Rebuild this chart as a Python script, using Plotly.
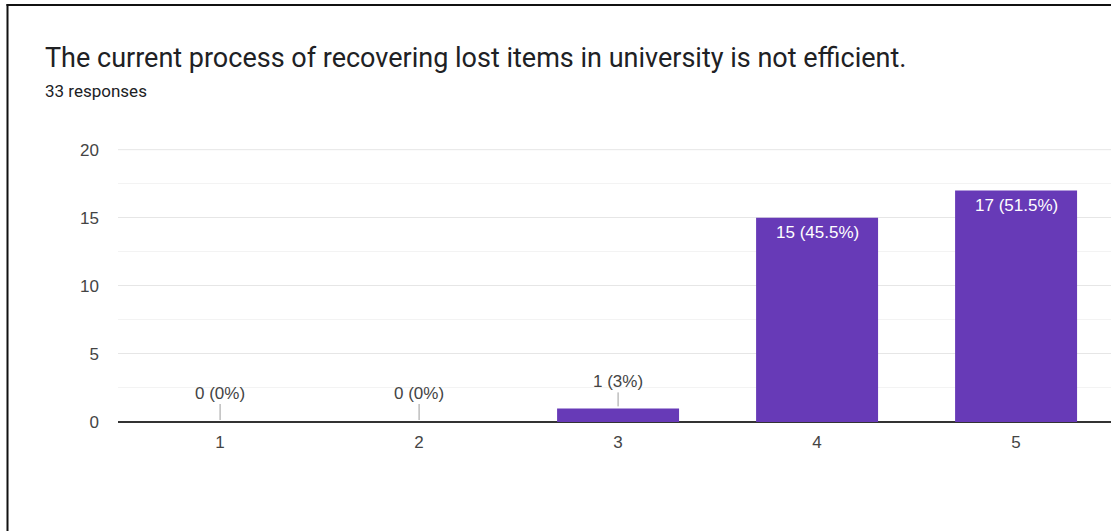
import plotly.graph_objects as go

# ---- data ----
categories = [1, 2, 3, 4, 5]
tick_labels = ["1", "2", "3", "4", "5"]
counts = [0, 0, 1, 15, 17]
percent_labels = ["0%", "0%", "3%", "45.5%", "51.5%"]
y_max = 20
title_text = "The current process of recovering lost items in university is not efficient."
subtitle_text = "33 responses"

W, H = 1111, 531
L, R, T, B = 118, 0, 149, 109
PW, PH = W - L - R, H - T - B

def px_x(p):
    return (p - L) / PW

def px_y(p):
    return (H - B - p) / PH

fig = go.Figure()
fig.add_trace(go.Bar(
    x=categories, y=counts,
    marker=dict(color="#673AB7", line=dict(width=0)),
    hoverinfo="skip",
))

font_fam = "Arial, Liberation Sans, sans-serif"
annotations = []
for c, v, p in zip(categories, counts, percent_labels):
    label = f"{v} ({p})"
    if v >= 5:
        annotations.append(dict(
            x=c, y=v, xref="x", yref="y", text=label, showarrow=False,
            yanchor="top", yshift=-3,
            font=dict(family=font_fam, size=17, color="#ffffff"),
        ))
    else:
        annotations.append(dict(
            x=c, y=v, xref="x", yref="y", text=label, showarrow=True,
            arrowhead=0, arrowwidth=1, arrowcolor="#9e9e9e", ax=0,
            ay=-29 if v == 0 else -27, standoff=2,
            font=dict(family=font_fam, size=17, color="#444444"),
        ))

annotations.append(dict(
    x=px_x(43), y=px_y(58), xref="paper", yref="paper", text=title_text,
    showarrow=False, xanchor="left", yanchor="middle",
    font=dict(family="Roboto, Arial, sans-serif", size=27, color="#202124"),
))
annotations.append(dict(
    x=px_x(43), y=px_y(91), xref="paper", yref="paper", text=subtitle_text,
    showarrow=False, xanchor="left", yanchor="middle",
    font=dict(family="Roboto, Arial, sans-serif", size=17, color="#202124"),
))

shapes = [
    dict(type="line", xref="paper", yref="paper",
         x0=px_x(7.5), x1=px_x(7.5), y0=px_y(4), y1=px_y(H + 5),
         line=dict(color="#111111", width=2)),
    dict(type="line", xref="paper", yref="paper",
         x0=px_x(6.5), x1=px_x(W + 5), y0=px_y(5), y1=px_y(5),
         line=dict(color="#111111", width=2)),
    # top gridline at the axis maximum
    dict(type="line", xref="paper", yref="y", x0=0, x1=1, y0=y_max, y1=y_max,
         line=dict(color="#e6e6e6", width=1), layer="below"),
]

fig.update_layout(
    width=W, height=H,
    margin=dict(l=L, r=R, t=T, b=B, pad=0),
    paper_bgcolor="white", plot_bgcolor="white",
    bargap=0.387,
    showlegend=False,
    annotations=annotations,
    shapes=shapes,
    font=dict(family=font_fam, color="#444444"),
)
fig.update_xaxes(
    range=[0.487, 5.477],
    tickmode="array", tickvals=categories, ticktext=tick_labels,
    showgrid=False, zeroline=False, showline=False, ticks="",
    tickfont=dict(family=font_fam, size=17, color="#444444"),
    ticklabelstandoff=8,
)
fig.update_yaxes(
    range=[0, y_max + 0.05], dtick=5, tick0=0,
    showgrid=True, gridcolor="#e6e6e6", gridwidth=1,
    minor=dict(dtick=2.5, showgrid=True, gridcolor="#f3f3f3", gridwidth=1),
    zeroline=True, zerolinecolor="#333333", zerolinewidth=2,
    showline=False, ticks="",
    tickfont=dict(family=font_fam, size=17, color="#444444"),
    ticklabelstandoff=18,
)

fig.write_html(
    "out.html",
    config={"displayModeBar": False},
    post_script="document.body.style.margin='0';document.body.style.overflow='hidden';",
)
